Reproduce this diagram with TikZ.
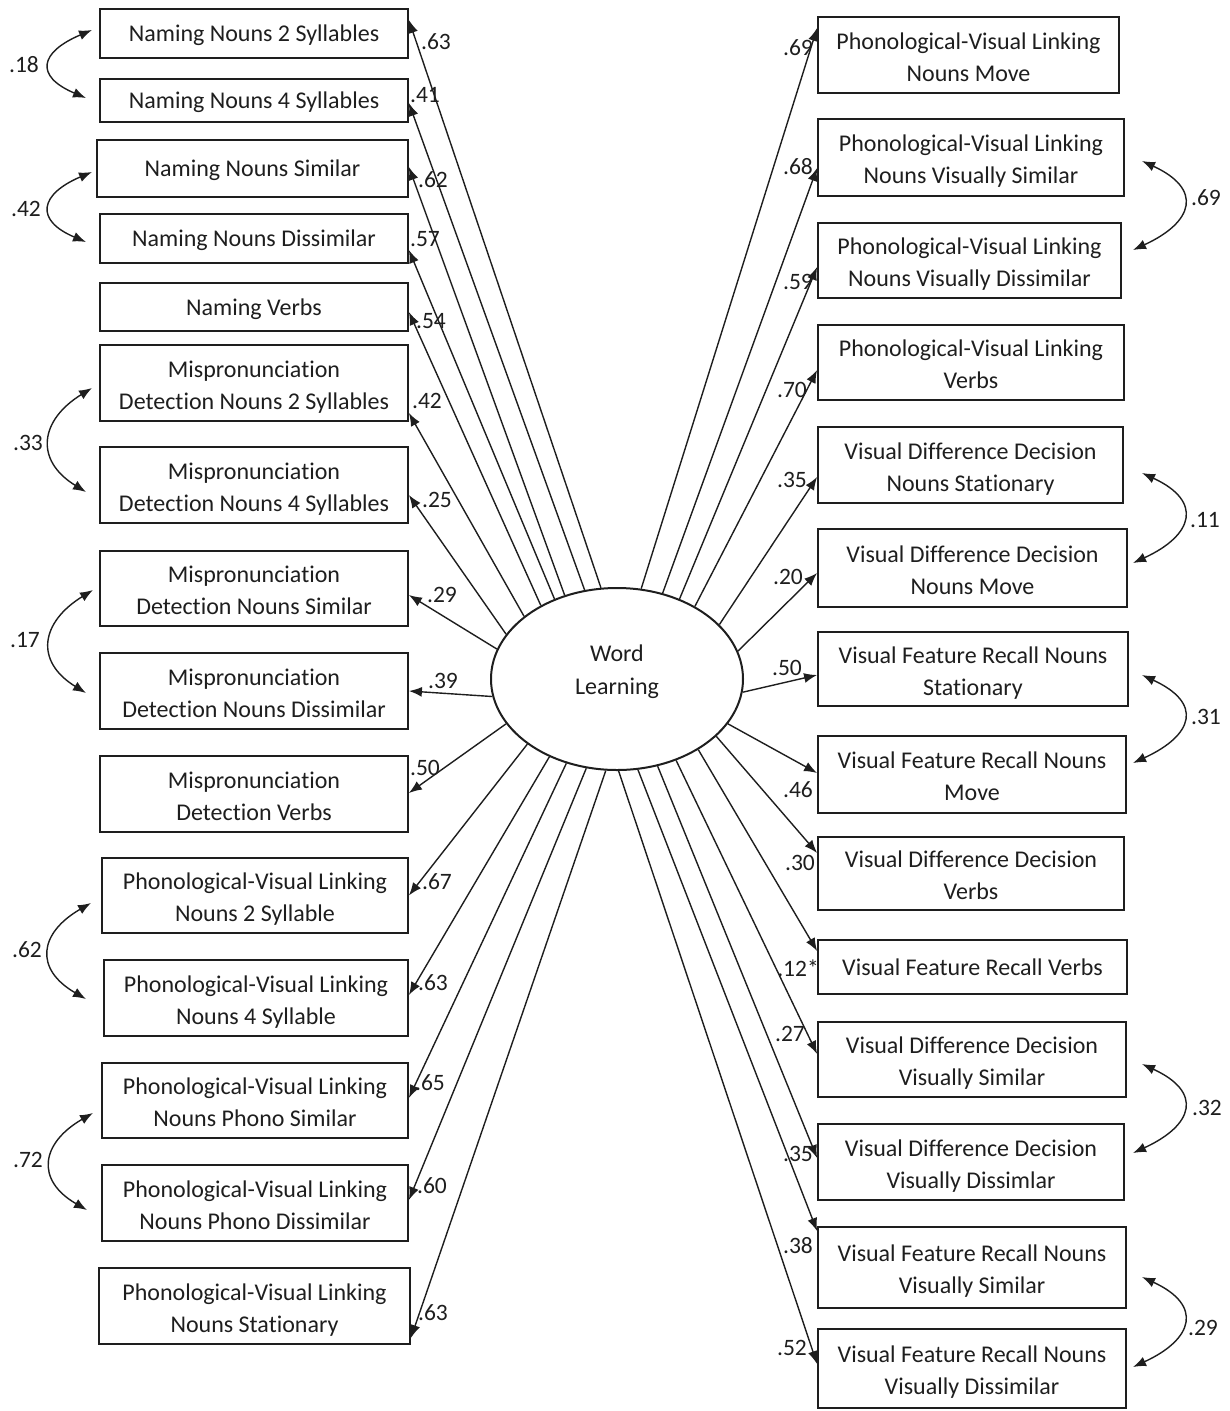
\documentclass[tikz,border=0pt]{standalone}
\usepackage{fontspec}
\setmainfont{Carlito}[Ligatures=NoCommon]
\usetikzlibrary{arrows.meta,shapes.geometric}
\definecolor{ink}{HTML}{1E1E1E}
\begin{document}
\begin{tikzpicture}[x=1pt,y=-1pt,
  box/.style={draw=ink,line width=1.8pt,inner sep=0pt,align=center,text=ink,
    font=\fontsize{24}{32}\selectfont,text height=17pt,text depth=1pt},
  two/.style={text height=52pt,text depth=0pt},
  lab/.style={inner sep=0pt,text=ink,font=\fontsize{23.5}{26}\selectfont},
  path/.style={draw=ink,line width=1.4pt,-{Latex[length=13pt,width=10pt]}},
  cov/.style={draw=ink,line width=1.4pt,{Latex[length=13pt,width=10pt]}-{Latex[length=13pt,width=10pt]}},
  latent/.style={ellipse,draw=ink,line width=2pt,minimum width=252pt,minimum height=182pt,inner sep=0pt}]
\useasboundingbox (0,0) rectangle (1230,1411);
% latent
\node[latent] (wl) at (617,679) {};
\node[inner sep=0pt,align=center,text=ink,font=\fontsize{24}{33}\selectfont] (wlt) at (617,672) {Word\\Learning};
% left boxes
\node[box,minimum width=308pt,minimum height=49pt] (L1) at (254,33.5) {Naming Nouns 2 Syllables};
\node[box,minimum width=308pt,minimum height=43pt] (L2) at (254,100.5) {Naming Nouns 4 Syllables};
\node[box,minimum width=311pt,minimum height=57pt] (L3) at (252.5,168.5) {Naming Nouns Similar};
\node[box,minimum width=308pt,minimum height=49pt] (L4) at (254,238.5) {Naming Nouns Dissimilar};
\node[box,minimum width=308pt,minimum height=48pt] (L5) at (254,307) {Naming Verbs};
\node[box,two,minimum width=308pt,minimum height=76pt] (L6) at (254,383) {Mispronunciation\\Detection Nouns 2 Syllables};
\node[box,two,minimum width=308pt,minimum height=76pt] (L7) at (254,485) {Mispronunciation\\Detection Nouns 4 Syllables};
\node[box,two,minimum width=308pt,minimum height=75pt] (L8) at (254,588.5) {Mispronunciation\\Detection Nouns Similar};
\node[box,two,minimum width=308pt,minimum height=76pt] (L9) at (254,691) {Mispronunciation\\Detection Nouns Dissimilar};
\node[box,two,minimum width=308pt,minimum height=76pt] (L10) at (254,794) {Mispronunciation\\Detection Verbs};
\node[box,two,minimum width=306pt,minimum height=75pt] (L11) at (255,895.5) {Phonological-Visual Linking\\Nouns 2 Syllable};
\node[box,two,minimum width=304pt,minimum height=76pt] (L12) at (256,998) {Phonological-Visual Linking\\Nouns 4 Syllable};
\node[box,two,minimum width=306pt,minimum height=75pt] (L13) at (255,1100.5) {Phonological-Visual Linking\\Nouns Phono Similar};
\node[box,two,minimum width=306pt,minimum height=76pt] (L14) at (255,1203) {Phonological-Visual Linking\\Nouns Phono Dissimilar};
\node[box,two,minimum width=311pt,minimum height=76pt] (L15) at (254.5,1306) {Phonological-Visual Linking\\Nouns Stationary};
% right boxes
\node[box,two,minimum width=301pt,minimum height=76pt] (R1) at (968.5,55) {Phonological-Visual Linking\\Nouns Move};
\node[box,two,minimum width=306pt,minimum height=77pt] (R2) at (971,157.5) {Phonological-Visual Linking\\Nouns Visually Similar};
\node[box,two,minimum width=303pt,minimum height=75pt] (R3) at (969.5,260.5) {Phonological-Visual Linking\\Nouns Visually Dissimilar};
\node[box,two,minimum width=306pt,minimum height=75pt] (R4) at (971,362.5) {Phonological-Visual Linking\\Verbs};
\node[box,two,minimum width=305pt,minimum height=76pt] (R5) at (970.5,465) {Visual Difference Decision\\Nouns Stationary};
\node[box,two,minimum width=309pt,minimum height=78pt] (R6) at (972.5,568) {Visual Difference Decision\\Nouns Move};
\node[box,two,minimum width=310pt,minimum height=74pt] (R7) at (973,669) {Visual Feature Recall Nouns\\Stationary};
\node[box,two,minimum width=308pt,minimum height=77pt] (R8) at (972,774.5) {Visual Feature Recall Nouns\\Move};
\node[box,two,minimum width=306pt,minimum height=73pt] (R9) at (971,873.5) {Visual Difference Decision\\Verbs};
\node[box,minimum width=309pt,minimum height=54pt] (R10) at (972.5,967) {Visual Feature Recall Verbs};
\node[box,two,minimum width=308pt,minimum height=75pt] (R11) at (972,1059.5) {Visual Difference Decision\\Visually Similar};
\node[box,two,minimum width=306pt,minimum height=76pt] (R12) at (971,1162) {Visual Difference Decision\\Visually Dissimlar};
\node[box,two,minimum width=308pt,minimum height=81pt] (R13) at (972,1267.5) {Visual Feature Recall Nouns\\Visually Similar};
\node[box,two,minimum width=308pt,minimum height=79pt] (R14) at (972,1368.5) {Visual Feature Recall Nouns\\Visually Dissimilar};
% loadings, left
\foreach \n/\a/\s in {L1/100/13.5, L2/110/-2.5, L3/122/1.5, L4/128/-11.5, L5/136.5/-5,
  L6/146.6/-30, L7/158.4/-10, L8/166.4/-6.5, L9/188/0, L10/202.7/1,
  L11/216.9/0, L12/229.3/3, L13/239.7/2.5, L14/251.4/3, L15/263.7/-32}
  \draw[path] (wl.\a) -- ([yshift=\s pt]\n.east);
% loadings, right
\foreach \n/\a/\s in {R1/75.2/27, R2/62.6/-10.5, R3/52/-6.5, R4/43.2/-7.5, R5/28.5/-12,
  R6/13.5/-5, R7/354/-6, R8/338.4/1.5, R9/330.6/20.5, R10/319.2/16,
  R11/306.9/5.5, R12/295.5/4, R13/283.7/36.5, R14/271.3/4.5}
  \draw[path] (wl.\a) -- ([yshift=\s pt]\n.west);
% loading labels
\foreach \i/\x/\y/\t in {1/436/42/.63, 2/425/95/.41, 3/433/180/.62, 4/425/239/.57, 5/431/321/.54,
  6/427/401/.42, 7/437/500/.25, 8/442/595/.29, 9/443/681/.39, 10/425/768/.50,
  11/437/882/.67, 12/433/983/.63, 13/430/1083/.65, 14/432/1186/.60, 15/433/1313/.63}
  \node[lab] (ll\i) at (\x,\y) {\t};
\foreach \i/\x/\y/\t in {1/798/48/.69, 2/798/167/.68, 3/798/282/.59, 4/792/390/.70, 5/792/480/.35,
  6/788/577/.20, 7/787/668/.50, 8/798/790/.46, 9/800/863/.30, 10/798/968/.12*,
  11/790/1034/.27, 12/798/1154/.35, 13/798/1246/.38, 14/792/1348/.52}
  \node[lab] (rl\i) at (\x,\y) {\t};
% covariance ends, left
\coordinate (a1) at (92,30);   \coordinate (b1) at (86,98);
\coordinate (a2) at (92,172);  \coordinate (b2) at (86,242);
\coordinate (a3) at (92,388);  \coordinate (b3) at (86,492);
\coordinate (a4) at (93,590);  \coordinate (b4) at (86,693);
\coordinate (a5) at (91,903);  \coordinate (b5) at (86,999);
\coordinate (a6) at (93,1113); \coordinate (b6) at (87,1210);
\draw[cov] (a1) .. controls +(-52,22) and +(-52,-22) .. (b1);
\draw[cov] (a2) .. controls +(-52,22) and +(-52,-22) .. (b2);
\draw[cov] (a3) .. controls +(-52,32) and +(-52,-32) .. (b3);
\draw[cov] (a4) .. controls +(-52,32) and +(-52,-32) .. (b4);
\draw[cov] (a5) .. controls +(-52,30) and +(-52,-30) .. (b5);
\draw[cov] (a6) .. controls +(-52,30) and +(-52,-30) .. (b6);
\node[lab] (cl1) at (24,65) {.18};
\node[lab] (cl2) at (26,209) {.42};
\node[lab] (cl3) at (28,443) {.33};
\node[lab] (cl4) at (25,640) {.17};
\node[lab] (cl5) at (27,950) {.62};
\node[lab] (cl6) at (28,1160) {.72};
% covariance ends, right
\coordinate (c1) at (1142,161);  \coordinate (d1) at (1133,250);
\coordinate (c2) at (1142,473);  \coordinate (d2) at (1133,563);
\coordinate (c3) at (1142,675);  \coordinate (d3) at (1133,763);
\coordinate (c4) at (1142,1064); \coordinate (d4) at (1133,1153);
\coordinate (c5) at (1142,1277); \coordinate (d5) at (1133,1367);
\foreach \i in {1,...,5}
  \draw[cov] (c\i) .. controls +(61,28) and +(61,-28) .. (d\i);
\node[lab] (cr1) at (1206,198) {.69};
\node[lab] (cr2) at (1205,520) {.11};
\node[lab] (cr3) at (1206,717) {.31};
\node[lab] (cr4) at (1207,1108) {.32};
\node[lab] (cr5) at (1203,1328) {.29};
\end{tikzpicture}
\end{document}
